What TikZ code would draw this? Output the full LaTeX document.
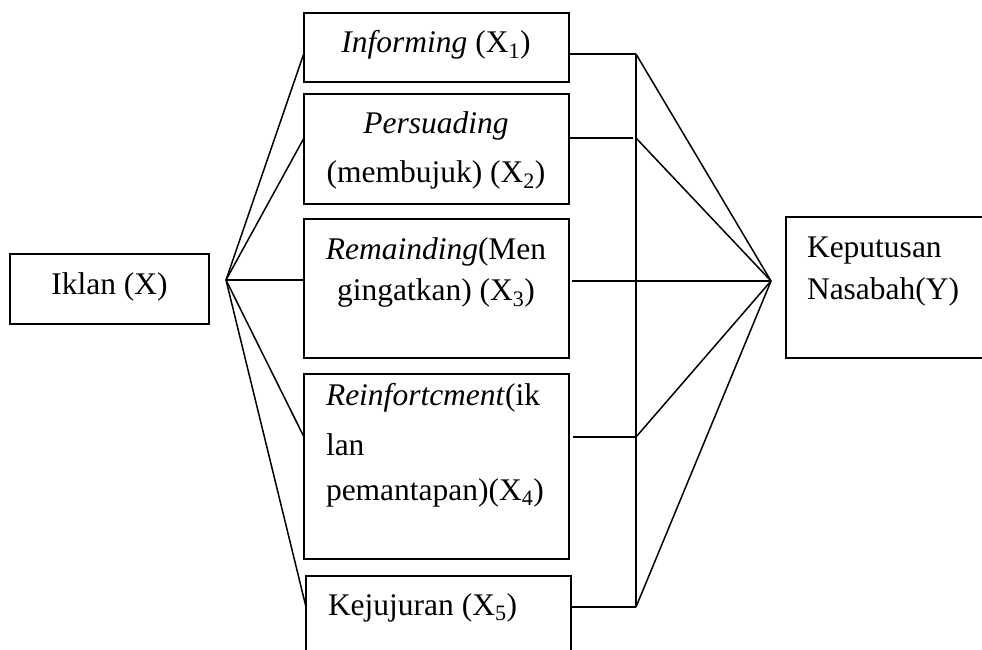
\documentclass[tikz,border=0pt]{standalone}
\usepackage{fontspec}
\setmainfont{Liberation Serif}
\begin{document}
\begin{tikzpicture}[x=1pt,y=-1pt,
  boxn/.style={draw=black,line width=1.7pt,rectangle,inner sep=0pt,outer sep=0pt,anchor=north west},
  conn/.style={draw=black,line width=1.5pt},
  txt/.style={inner sep=0pt,outer sep=0pt,font=\fontsize{31.5}{38}\selectfont}]
\useasboundingbox (0,0) rectangle (982,650);
\begin{scope}
\clip (0,0) rectangle (982,650);
% boxes
\node[boxn,minimum width=199pt,minimum height=70pt] (ik) at (10,254) {};
\node[boxn,minimum width=265pt,minimum height=69pt] (b1) at (304,13) {};
\node[boxn,minimum width=265pt,minimum height=110pt] (b2) at (304,94) {};
\node[boxn,minimum width=265pt,minimum height=139pt] (b3) at (304,219) {};
\node[boxn,minimum width=265pt,minimum height=185pt] (b4) at (304,374) {};
\node[boxn,minimum width=265pt,minimum height=124pt] (b5) at (306,576) {};
\node[boxn,minimum width=214pt,minimum height=141pt] (ky) at (786,217) {};
% texts
\node[txt,anchor=base] (tik) at (109.5,294) {Iklan (X)};
\node[txt,anchor=base] (t1) at (436,53) {\textit{Informing} (X\textsubscript{1})};
\node[txt,anchor=base] (t2a) at (436,133) {\textit{Persuading}};
\node[txt,anchor=base] (t2b) at (436,182) {(membujuk) (X\textsubscript{2})};
\node[txt,anchor=base] (t3a) at (436,259) {\textit{Remainding}(Men};
\node[txt,anchor=base] (t3b) at (436,300) {gingatkan) (X\textsubscript{3})};
\node[txt,anchor=base west] (t4a) at (326,405) {\textit{Reinfortcment}(ik};
\node[txt,anchor=base west] (t4b) at (326,455) {lan};
\node[txt,anchor=base west] (t4c) at (326,500) {pemantapan)(X\textsubscript{4})};
\node[txt,anchor=base west] (t5) at (328,615) {Kejujuran (X\textsubscript{5})};
\node[txt,anchor=base west] (tya) at (807,257) {Keputusan};
\node[txt,anchor=base west] (tyb) at (807,299) {Nasabah(Y)};
% junction points
\coordinate (fL) at (226,280);
\coordinate (fR) at (771,281);
\coordinate (p1) at (636,54);
\coordinate (p2) at (636,138);
\coordinate (p4) at (636,437);
\coordinate (p5) at (636,607);
% left fan
\draw[conn] (fL) -- ([yshift=-5.5pt]b1.west);
\draw[conn] (fL) -- ([yshift=11pt]b2.west);
\draw[conn] (fL) -- ([yshift=8.5pt]b3.west);
\draw[conn] (fL) -- ([yshift=29.5pt]b4.west);
\draw[conn] (fL) -- ([yshift=-31pt]b5.north west);
% right side
\draw[conn] ([yshift=-6.5pt]b1.east) -- (p1);
\draw[conn] ([yshift=11pt]b2.east) -- ([xshift=-3pt]p2);
\draw[conn] ([xshift=3pt,yshift=7.5pt]b3.east) -- (fR);
\draw[conn] ([xshift=4pt,yshift=29.5pt]b4.east) -- (p4);
\draw[conn] ([yshift=-31pt]b5.north east) -- (p5);
\draw[conn] (p1) -- (p5);
\draw[conn] (p1) -- (fR);
\draw[conn] (p2) -- (fR);
\draw[conn] (p4) -- (fR);
\draw[conn] (p5) -- (fR);
\end{scope}
\end{tikzpicture}
\end{document}
